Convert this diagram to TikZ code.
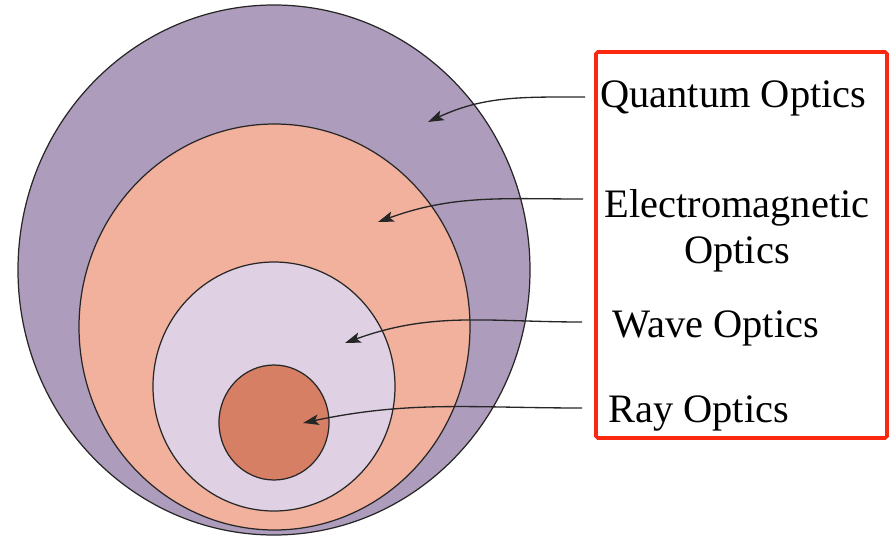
\documentclass[tikz,border=0pt]{standalone}
\usepackage{fontspec}
\setmainfont{Liberation Serif}
\usetikzlibrary{arrows.meta}

\definecolor{quantumfill}{RGB}{173,156,187}
\definecolor{emfill}{RGB}{242,177,157}
\definecolor{wavefill}{RGB}{224,208,227}
\definecolor{rayfill}{RGB}{214,127,100}
\definecolor{boxred}{RGB}{250,40,15}

\tikzset{zone/.style={draw=black!85, line width=0.7pt}}
\tikzset{pointer/.style={draw=black!85, line width=0.75pt, -{Stealth[length=9pt,width=6pt,inset=2pt]}}}
\tikzset{tag/.style={inner sep=0pt, font=\fontsize{23}{26}\selectfont}}

\begin{document}
\begin{tikzpicture}[x=0.02cm, y=0.02cm]
            \useasboundingbox (0,0) rectangle (890,539);
            % Les zones, de la plus grande a la plus petite
            \draw[zone, fill=quantumfill] (274,269) ellipse [x radius=256, y radius=265];
            \draw[zone, fill=emfill] (274.5,212) ellipse [x radius=195.5, y radius=203];
            \draw[zone, fill=wavefill] (274,152.5) ellipse [x radius=121, y radius=124.5];
            \draw[zone, fill=rayfill] (274,116.5) ellipse [x radius=55, y radius=57.5];

            % Le cadre et les noms
            \draw[boxred, line width=2pt, rounded corners=1pt] (596,487) rectangle (887,101);
            \node[tag, anchor=base west] (quantum) at (600,432) {Quantum Optics};
            \node[tag, anchor=base, align=center] (em) at (737,276) {Electromagnetic\\Optics};
            \node[tag, anchor=base west] (wave) at (612,202) {Wave Optics};
            \node[tag, anchor=base west] (ray) at (608,117) {Ray Optics};

            % Les fleches
            \coordinate (qs) at (585,442); \coordinate (qt) at (428,417);
            \coordinate (es) at (583,340); \coordinate (et) at (378,317);
            \coordinate (ws) at (582,217); \coordinate (wt) at (345,196);
            \coordinate (rs) at (582,131); \coordinate (rt) at (303,116);
            \draw[pointer] (qs) to[out=180, in=25] (qt);
            \draw[pointer] (es) to[out=180, in=20] (et);
            \draw[pointer] (ws) to[out=180, in=20] (wt);
            \draw[pointer] (rs) to[out=180, in=12] (rt);
        \end{tikzpicture}
\end{document}
